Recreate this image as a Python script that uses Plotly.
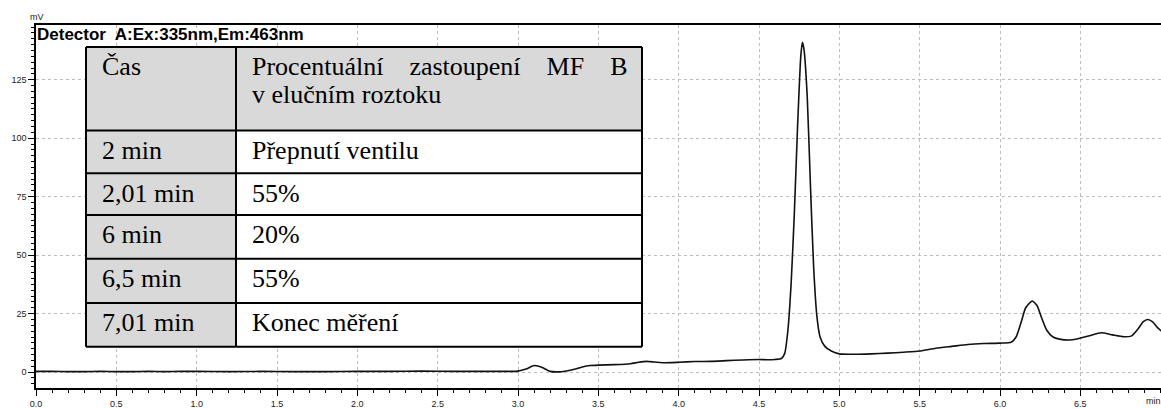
import plotly.graph_objects as go

# ---- chromatogram data (time in min, signal in mV) ----
time_min = [0.00, 0.10, 0.20, 0.30, 0.40, 0.50, 0.60, 0.70, 0.80, 0.90, 1.00, 1.20, 1.40, 1.60,
            1.80, 2.00, 2.20, 2.40, 2.60, 2.80, 2.95, 3.00, 3.05, 3.10, 3.15, 3.20, 3.25, 3.30,
            3.35, 3.40, 3.45, 3.50, 3.60, 3.70, 3.75, 3.80, 3.85, 3.90, 4.00, 4.10, 4.20, 4.30,
            4.40, 4.50, 4.55, 4.60, 4.64, 4.66, 4.68, 4.70, 4.72, 4.74, 4.76, 4.77, 4.78, 4.80,
            4.82, 4.84, 4.86, 4.88, 4.91, 4.95, 5.00, 5.10, 5.20, 5.30, 5.40, 5.50, 5.60, 5.70,
            5.80, 5.90, 6.00, 6.07, 6.10, 6.13, 6.16, 6.20, 6.23, 6.26, 6.29, 6.33, 6.37, 6.45,
            6.55, 6.63, 6.70, 6.77, 6.82, 6.86, 6.89, 6.92, 6.95, 6.98, 7.01]
signal_mv = [0.3, 0.3, 0.2, 0.2, 0.3, 0.2, 0.2, 0.3, 0.2, 0.3, 0.3, 0.2, 0.3, 0.2,
             0.2, 0.3, 0.3, 0.4, 0.3, 0.3, 0.3, 0.4, 1.3, 2.8, 2.0, 0.3, 0.1, 0.5,
             1.2, 2.2, 2.8, 3.0, 3.2, 3.6, 4.2, 4.6, 4.3, 4.0, 4.2, 4.5, 4.6, 4.9,
             5.2, 5.4, 5.3, 5.4, 5.8, 8.0, 18.0, 38.0, 68.0, 105.0, 135.0, 141.0, 138.0, 118.0,
             80.0, 45.0, 24.0, 15.0, 11.0, 9.0, 7.8, 7.6, 7.8, 8.1, 8.5, 9.0, 10.2, 11.0,
             11.8, 12.2, 12.4, 12.8, 15.0, 21.0, 27.5, 30.4, 28.5, 23.0, 18.0, 15.0, 14.1, 13.8,
             15.4, 16.8, 15.9, 15.1, 15.5, 18.5, 21.5, 22.5, 21.5, 19.0, 17.2]

# ---- axis ticks ----
x_tick_vals = [0.0, 0.5, 1.0, 1.5, 2.0, 2.5, 3.0, 3.5, 4.0, 4.5, 5.0, 5.5, 6.0, 6.5]
x_tick_text = ["0.0", "0.5", "1.0", "1.5", "2.0", "2.5", "3.0", "3.5", "4.0", "4.5",
               "5.0", "5.5", "6.0", "6.5"]
y_tick_vals = [0, 25, 50, 75, 100, 125]

# ---- inset table ----
NB = "\u00a0"
table_col1 = ["Čas", "2 min", "2,01 min", "6 min", "6,5 min", "7,01 min"]
table_col2 = ["Procentuální" + NB * 4 + "zastoupení" + NB * 4 + "MF" + NB * 4 + "B<br>v elučním roztoku",
              "Přepnutí ventilu", "55%", "20%", "55%", "Konec měření"]

W, H = 1161, 409
L, R, T, B = 36, 0, 25, 19
PW, PH = W - L - R, H - T - B


def px(x):
    return (x - L) / PW


def py(y):
    return (H - B - y) / PH


fig = go.Figure()
fig.add_trace(go.Scatter(x=time_min, y=signal_mv, mode="lines",
                         line=dict(color="#111111", width=1.6, shape="spline", smoothing=0.6),
                         hoverinfo="skip", showlegend=False))

axis_font = dict(family="Arial, Liberation Sans, sans-serif", size=9, color="#222222")
fig.update_xaxes(range=[0, 7.002], tickvals=x_tick_vals, ticktext=x_tick_text,
                 ticks="outside", ticklen=6, tickwidth=1, tickcolor="black",
                 showline=True, linecolor="black", linewidth=2, mirror=True,
                 showgrid=True, gridcolor="#bdbdbd", griddash="dot", gridwidth=1,
                 zeroline=False, tickfont=axis_font,
                 minor=dict(dtick=0.1, tick0=0, ticks="outside", ticklen=3, tickcolor="black",
                            showgrid=False))
fig.update_yaxes(range=[-6.8, 148.4], tickvals=y_tick_vals,
                 ticks="outside", ticklen=6, tickwidth=1, tickcolor="black",
                 showline=True, linecolor="black", linewidth=1.5,
                 showgrid=True, gridcolor="#bdbdbd", griddash="dot", gridwidth=1,
                 zeroline=False, tickfont=axis_font,
                 minor=dict(dtick=2.5, tick0=0, ticks="outside", ticklen=3, tickcolor="black",
                            showgrid=False))

shapes = []
annotations = []

# table geometry in pixels
col_x = [86, 236, 642]
row_y = [47, 131, 174, 216, 260, 304.5, 348.5]
gray = "#d9d9d9"
for i in range(len(table_col1)):
    y0, y1 = row_y[i], row_y[i + 1]
    shapes.append(dict(type="rect", xref="paper", yref="paper", layer="above",
                       x0=px(col_x[0]), x1=px(col_x[1]), y0=py(y1), y1=py(y0),
                       fillcolor=gray, line=dict(width=0)))
    shapes.append(dict(type="rect", xref="paper", yref="paper", layer="above",
                       x0=px(col_x[1]), x1=px(col_x[2]), y0=py(y1), y1=py(y0),
                       fillcolor=gray if i == 0 else "white", line=dict(width=0)))
for yv in row_y:
    shapes.append(dict(type="line", xref="paper", yref="paper", layer="above",
                       x0=px(col_x[0]), x1=px(col_x[2]), y0=py(yv), y1=py(yv),
                       line=dict(color="black", width=2)))
for xv in col_x:
    shapes.append(dict(type="line", xref="paper", yref="paper", layer="above",
                       x0=px(xv), x1=px(xv), y0=py(row_y[0]), y1=py(row_y[-1]),
                       line=dict(color="black", width=2)))

tfont = dict(family="Liberation Serif, Times New Roman, serif", size=26, color="black")
for i in range(len(table_col1)):
    y_mid = row_y[i] + 20
    annotations.append(dict(text=table_col1[i], x=px(100), y=py(y_mid), xref="paper", yref="paper",
                            xanchor="left", yanchor="middle", showarrow=False, font=tfont))
    lines2 = table_col2[i].split("<br>")
    for j, t in enumerate(lines2):
        annotations.append(dict(text=t, x=px(250), y=py(y_mid + 28 * j), xref="paper", yref="paper",
                                xanchor="left", yanchor="middle", showarrow=False, font=tfont))

annotations.append(dict(text="<b>Detector  A:Ex:335nm,Em:463nm</b>", x=px(35), y=py(35),
                        xref="paper", yref="paper", xanchor="left", yanchor="middle",
                        showarrow=False,
                        font=dict(family="Arial, Liberation Sans, sans-serif", size=17, color="black")))
annotations.append(dict(text="mV", x=px(28), y=py(17), xref="paper", yref="paper",
                        xanchor="left", yanchor="middle", showarrow=False, font=axis_font))
annotations.append(dict(text="min", x=px(1144), y=py(403), xref="paper", yref="paper",
                        xanchor="left", yanchor="middle", showarrow=False, font=axis_font))

fig.update_layout(width=W, height=H, margin=dict(l=L, r=R, t=T, b=B, pad=0),
                  paper_bgcolor="white", plot_bgcolor="white",
                  shapes=shapes, annotations=annotations, showlegend=False)

fig.write_html("out.html")
